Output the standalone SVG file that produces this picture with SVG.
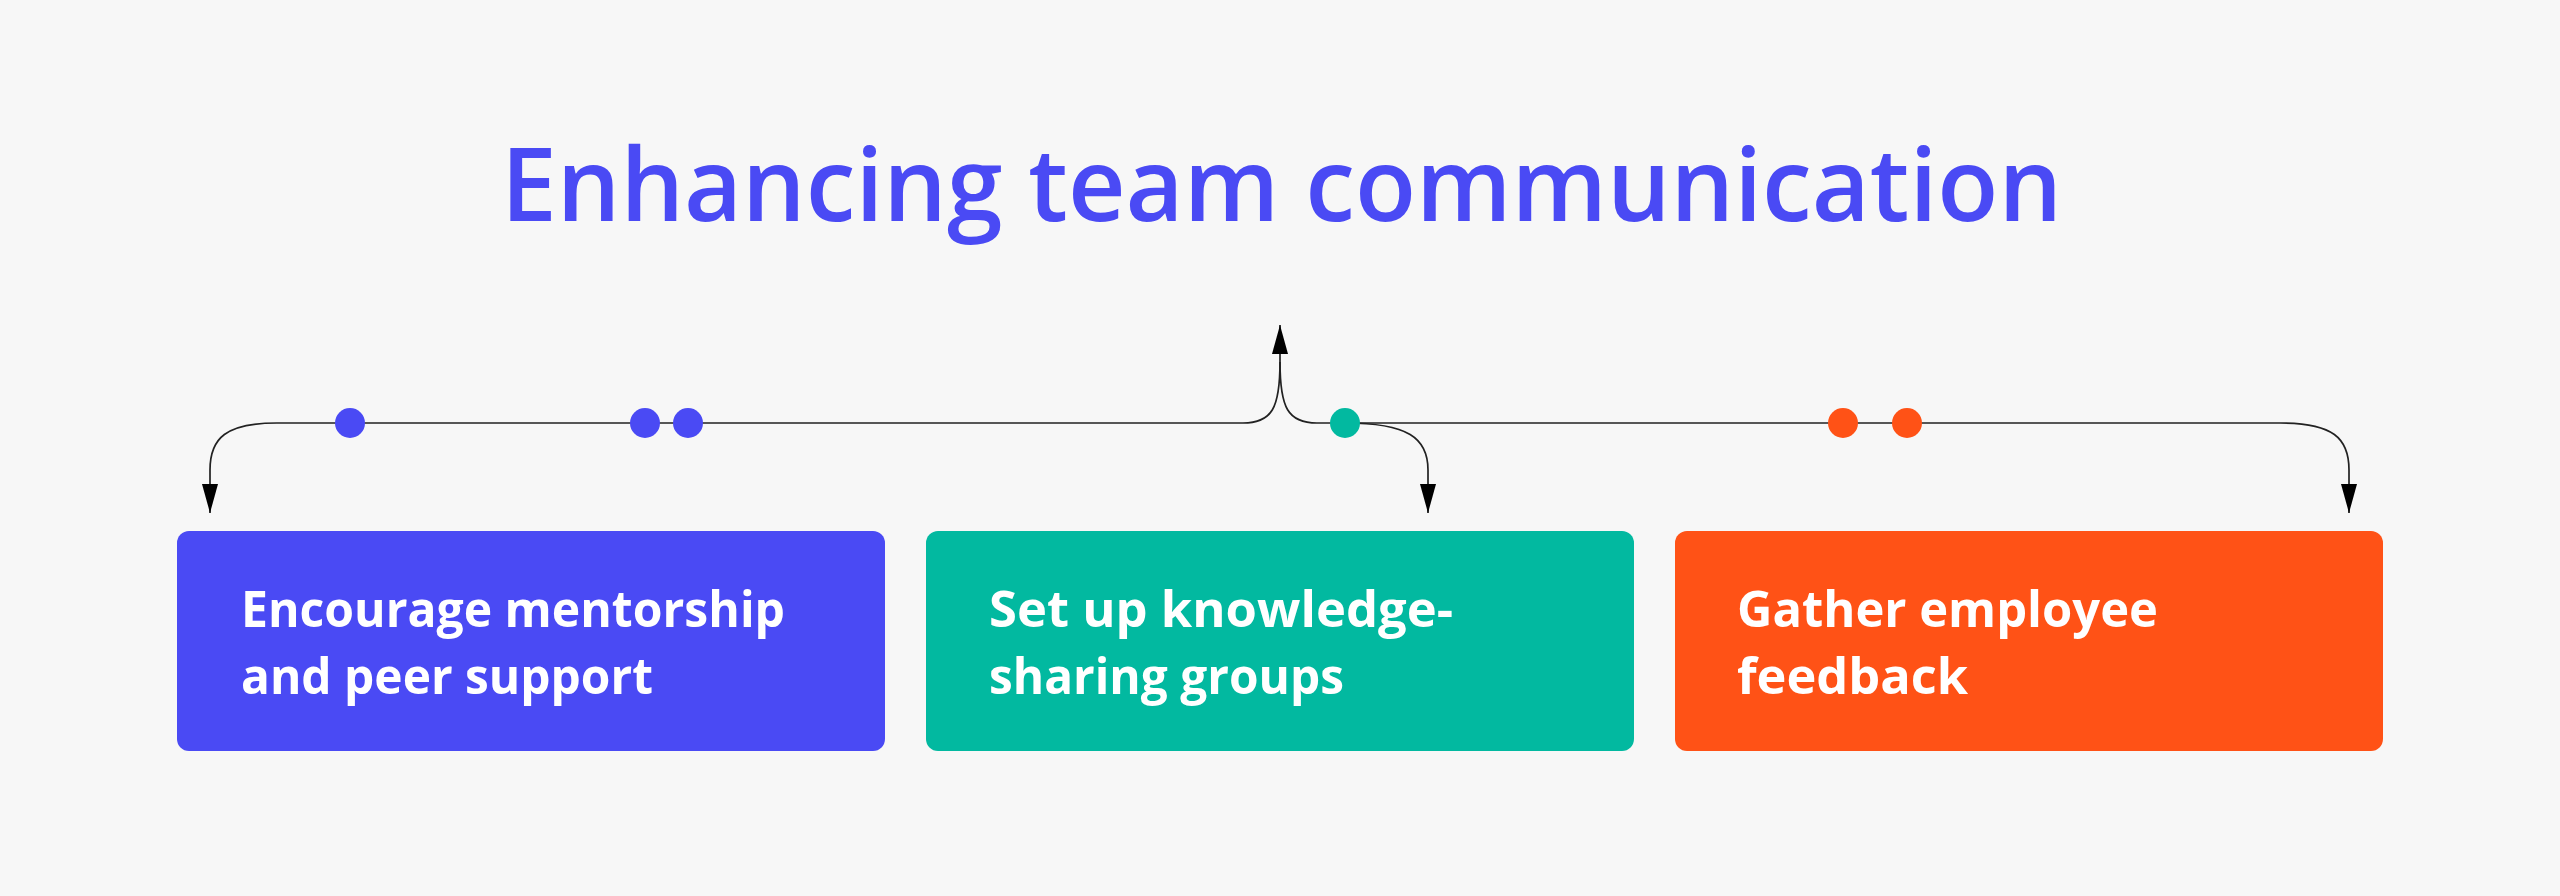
<svg xmlns="http://www.w3.org/2000/svg" width="2560" height="896" viewBox="0 0 2560 896">
  <style>
    .title { font-family: "Open Sans", "Liberation Sans", sans-serif; font-weight: 600; font-size: 101px; fill: #4A4AF4; }
    .label { font-family: "Open Sans", "Liberation Sans", sans-serif; font-weight: 700; font-size: 50px; fill: #FFFFFF; }
    .conn { fill: none; stroke: #222222; stroke-width: 1.7; }
    .box { stroke: none; }
  </style>
  <defs>
    <marker id="arrow" markerUnits="userSpaceOnUse" viewBox="0 0 29 16" markerWidth="29" markerHeight="16" refX="29" refY="8" orient="auto">
      <path d="M0,0 L29,8 L0,16 z" fill="#000000"/>
    </marker>
  </defs>
  <rect x="0" y="0" width="2560" height="896" fill="#F7F7F7"/>

  <g id="title">
    <text class="title" x="1281.5" y="221" text-anchor="middle" textLength="1561" lengthAdjust="spacingAndGlyphs">Enhancing team communication</text>
  </g>

  <g id="connectors">
    <path class="conn" d="M 1243 423 C 1272 423 1280 408 1280 362 L 1280 325" marker-end="url(#arrow)"/>
    <path class="conn" d="M 1317 423 C 1288 423 1280 408 1280 362"/>
    <path class="conn" d="M 1243 423 L 277 423 C 226 423 210 438 210 470 L 210 513" marker-end="url(#arrow)"/>
    <path class="conn" d="M 1317 423 L 2280 423 C 2333 423 2349 438 2349 470 L 2349 513" marker-end="url(#arrow)"/>
    <path class="conn" d="M 1345 423 C 1408 423 1428 438 1428 470 L 1428 513" marker-end="url(#arrow)"/>
    <g id="dots">
      <circle cx="350" cy="423" r="15" fill="#4A4AF4"/>
      <circle cx="645" cy="423" r="15" fill="#4A4AF4"/>
      <circle cx="688" cy="423" r="15" fill="#4A4AF4"/>
      <circle cx="1345" cy="423" r="15" fill="#02B9A0"/>
      <circle cx="1843" cy="423" r="15" fill="#FF5216"/>
      <circle cx="1907" cy="423" r="15" fill="#FF5216"/>
    </g>
  </g>

  <g id="node-mentorship">
    <rect class="box" x="177" y="531" width="708" height="220" rx="12" fill="#4A4AF4"/>
    <text class="label" x="241" y="627" textLength="544" lengthAdjust="spacingAndGlyphs">Encourage mentorship</text>
    <text class="label" x="241" y="694" textLength="412" lengthAdjust="spacingAndGlyphs">and peer support</text>
  </g>

  <g id="node-knowledge">
    <rect class="box" x="926" y="531" width="708" height="220" rx="12" fill="#02B9A0"/>
    <text class="label" x="989" y="627" textLength="464" lengthAdjust="spacingAndGlyphs">Set up knowledge-</text>
    <text class="label" x="989" y="694" textLength="355" lengthAdjust="spacingAndGlyphs">sharing groups</text>
  </g>

  <g id="node-feedback">
    <rect class="box" x="1675" y="531" width="708" height="220" rx="12" fill="#FF5216"/>
    <text class="label" x="1737" y="627" textLength="421" lengthAdjust="spacingAndGlyphs">Gather employee</text>
    <text class="label" x="1737" y="694" textLength="231" lengthAdjust="spacingAndGlyphs">feedback</text>
  </g>
</svg>
